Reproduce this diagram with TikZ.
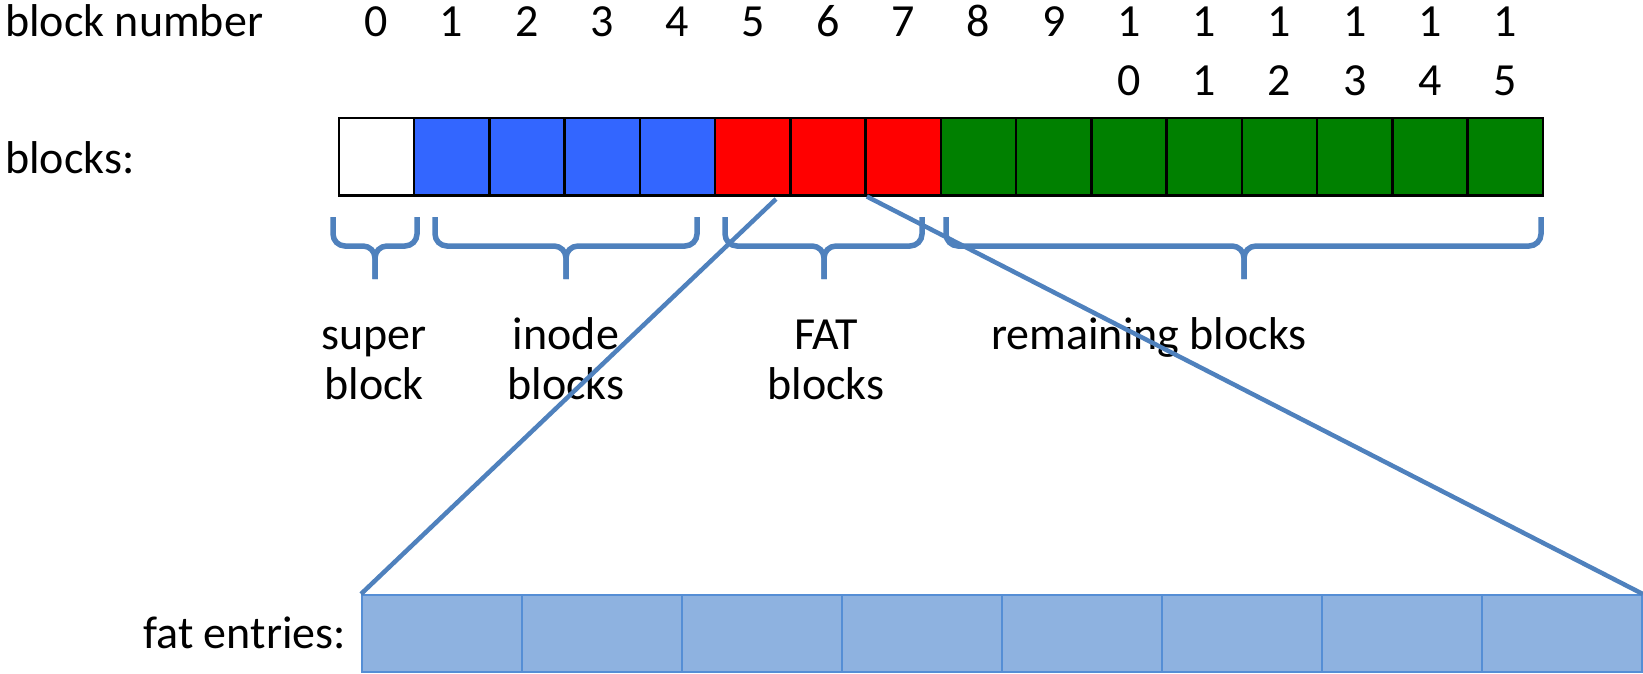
\documentclass[tikz,border=0pt]{standalone}
\usepackage{fontspec}
\setmainfont{Carlito}
\usepackage{tikz}
\usetikzlibrary{positioning}

\definecolor{inodeblue}{RGB}{51,102,255}
\definecolor{fatred}{RGB}{255,0,0}
\definecolor{restgreen}{RGB}{0,128,0}
\definecolor{bracecol}{RGB}{79,129,189}
\definecolor{entryfill}{RGB}{142,178,224}
\definecolor{entryline}{RGB}{85,142,213}

\begin{document}
\begin{tikzpicture}[x=1pt,y=-1pt,
  every node/.style={font=\fontsize{46}{59}\selectfont,inner sep=0pt},
  blk/.style={draw=black,line width=2.5pt,minimum width=75.26pt,minimum height=77pt,anchor=north west},
  entry/.style={draw=entryline,fill=entryfill,line width=1.8pt,minimum width=160pt,minimum height=77pt,anchor=north west},
  brace/.style={draw=bracecol,line width=5.5pt,rounded corners=12pt},
  zoomline/.style={draw=bracecol,line width=4.5pt},
  num/.style={anchor=base,align=center},
  lbl/.style={anchor=base,align=center,font=\fontsize{46}{50}\selectfont}]
\useasboundingbox (0,0) rectangle (1643,674);

% block row
\node [anchor=base west] (numlbl) at (5,37) {block number};
\node [anchor=base west] (blklbl) at (5,173) {blocks:};
\foreach \i/\c in {0/white,1/inodeblue,2/inodeblue,3/inodeblue,4/inodeblue,
  5/fatred,6/fatred,7/fatred,8/restgreen,9/restgreen,10/restgreen,11/restgreen,
  12/restgreen,13/restgreen,14/restgreen,15/restgreen}
  \node [blk,fill=\c] (b\i) at (337.5+75.26*\i,117) {};
\foreach \i in {0,...,9}
  \node [num] (n\i) at (b\i.center |- 0,37) {\i};
% two-line numbers: base sits on the lower line
\foreach \i in {0,...,5}
  \node [num] (n1\i) at (b1\i.center |- 0,96) {1\\\i};

% braces
\draw [brace] (333,217) -- (333,246) -- (375,246) -- (375,279);
\draw [brace] (417,217) -- (417,246) -- (375,246) -- (375,279);
\draw [brace] (435,217) -- (435,246) -- (566,246) -- (566,279);
\draw [brace] (697,217) -- (697,246) -- (566,246) -- (566,279);
\draw [brace] (725,217) -- (725,246) -- (824,246) -- (824,279);
\draw [brace] (922,217) -- (922,246) -- (824,246) -- (824,279);
\draw [brace] (946,217) -- (946,246) -- (1244,246) -- (1244,279);
\draw [brace] (1541,217) -- (1541,246) -- (1244,246) -- (1244,279);
\node [lbl] (superlbl) at (374,399) {super\\block};
\node [lbl] (inodelbl) at (566,399) {inode\\blocks};
\node [lbl] (fatlbl) at (826,399) {FAT\\blocks};
\node [lbl] (restlbl) at (1149,349) {remaining blocks};

% fat entries
\node [anchor=base east] (entrylbl) at (346,648) {fat entries:};
\foreach \i in {0,...,7}
  \node [entry] (f\i) at (361+160*\i,594) {};
\coordinate (zl) at (776,199);
\draw [zoomline] (zl) -- (f0.north west);
\draw [zoomline] (b6.south east) -- (f7.north east);
\end{tikzpicture}
\end{document}
